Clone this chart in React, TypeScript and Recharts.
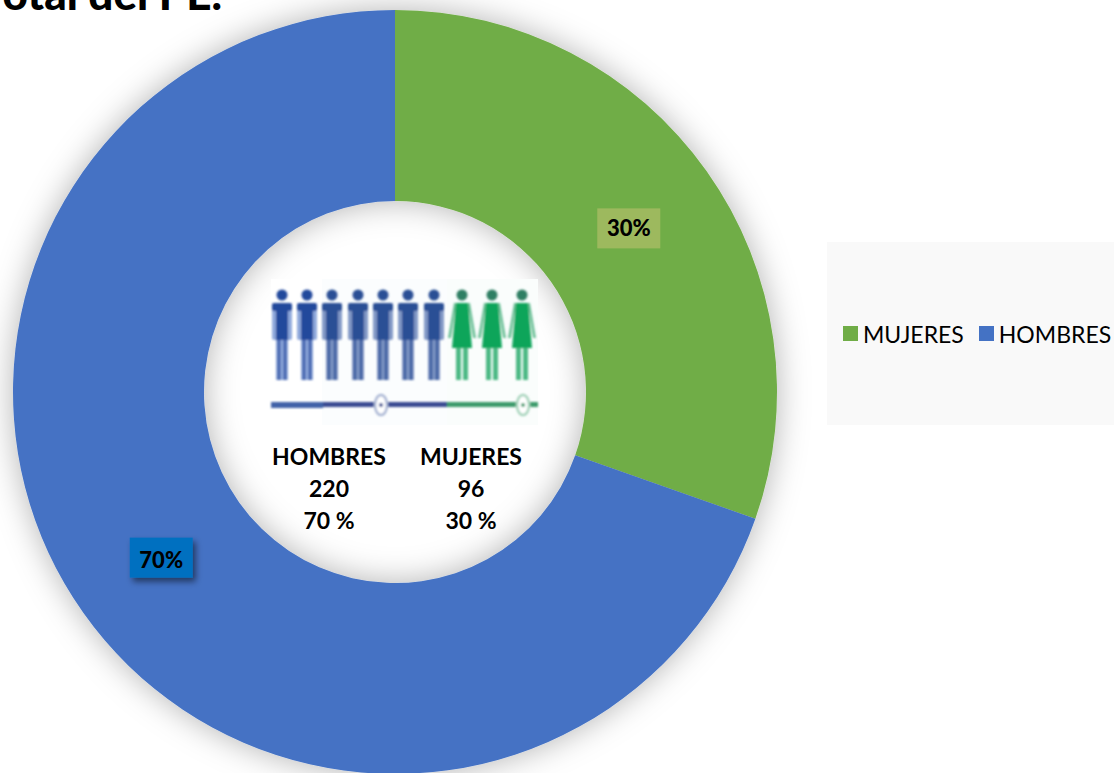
import React from "react";
import { PieChart, Pie, Cell, Legend } from "recharts";

const categories = ["MUJERES", "HOMBRES"];
const counts = [96, 220];
const percentLabels = ["30%", "70%"];
const colors = ["#70AD47", "#4472C4"];
const labelFills = ["#9DB95E", "#0070C0"];
const centerColumns = [
  { x: 329, lines: ["HOMBRES", "220", "70 %"] },
  { x: 471, lines: ["MUJERES", "96", "30 %"] },
];
const menX = [282, 307, 332, 358, 383, 408, 434];
const womenX = [462, 492, 522];

const FONT = "Lato, 'Open Sans', sans-serif";
const data = categories.map((name, i) => ({ name, value: counts[i] }));
const RAD = Math.PI / 180;

function renderLabel(p: any) {
  const r = (p.innerRadius + p.outerRadius) / 2;
  const x = p.cx + r * Math.cos(-p.midAngle * RAD);
  const y = p.cy + r * Math.sin(-p.midAngle * RAD);
  const i = p.index;
  const dy = i === 0 ? 2 : 0;
  return (
    <g>
      <rect x={x - 31.5} y={y - 20 + dy} width={63} height={40} fill={labelFills[i]} filter={i === 1 ? "url(#lblShadow)" : undefined} />
      <text x={x} y={y + 8 + dy + (i === 1 ? 2 : 0)} textAnchor="middle" fontFamily={FONT} fontWeight={900} fontSize={22} fill="#000">
        {percentLabels[i]}
      </text>
    </g>
  );
}

function Man({ x, color, light }: { x: number; color: string; light: string }) {
  return (
    <g>
      <circle cx={x} cy={295} r={5.5} fill={color} />
      <rect x={x - 10} y={303} width={20} height={37} rx={2} fill={light} />
      <rect x={x - 10} y={303} width={20} height={8} rx={2} fill={color} />
      <rect x={x - 6} y={303} width={12} height={37} fill={color} />
      <rect x={x - 6} y={340} width={12} height={40} fill={light} />
      <rect x={x - 4.5} y={340} width={3} height={40} fill={color} opacity={0.75} />
      <rect x={x + 1.5} y={340} width={3} height={40} fill={color} opacity={0.75} />
    </g>
  );
}

function Woman({ x }: { x: number }) {
  return (
    <g>
      <circle cx={x} cy={295} r={5.5} fill="#2F7F63" />
      <path d={`M${x - 8} 303 L${x + 8} 303 L${x + 14} 338 L${x + 11} 338 L${x + 7} 312 L${x - 7} 312 L${x - 11} 338 L${x - 14} 338 Z`} fill="#6CC097" />
      <path d={`M${x - 6} 303 L${x + 6} 303 L${x + 10} 348 L${x - 10} 348 Z`} fill="#0BA55A" />
      <rect x={x - 6} y={348} width={5} height={32} fill="#4DB985" />
      <rect x={x + 1} y={348} width={5} height={32} fill="#4DB985" />
    </g>
  );
}

function Pictogram() {
  return (
    <svg width={1114} height={773} style={{ position: "absolute", left: 0, top: 0, pointerEvents: "none" }}>
      <defs>
        <filter id="soft" x="-5%" y="-5%" width="110%" height="110%">
          <feGaussianBlur stdDeviation={0.9} />
        </filter>
      </defs>
      <rect x={271} y={279} width={267} height={146} fill="#fff" />
      <rect x={322} y={279} width={125} height={146} fill="#FBFDFE" />
      <rect x={447} y={279} width={91} height={146} fill="#FAFDFC" />
      <g filter="url(#soft)">
        {menX.map((x) => (
          <Man key={x} x={x} color={x < 320 ? "#24489C" : "#2B4F95"} light={x < 320 ? "#8FA9DC" : "#8299C6"} />
        ))}
        {womenX.map((x) => (
          <Woman key={x} x={x} />
        ))}
        <rect x={271} y={402} width={52} height={6} fill="#3F62A8" />
        <rect x={323} y={402} width={124} height={5} fill="#3A4C92" />
        <rect x={447} y={402} width={91} height={5} fill="#3E9B6C" />
        <ellipse cx={381} cy={405} rx={6} ry={10} fill="#fff" stroke="#A9B6D4" strokeWidth={2.5} />
        <circle cx={381} cy={405} r={2} fill="#3A4C92" />
        <ellipse cx={523} cy={405} rx={6} ry={10} fill="#fff" stroke="#A6D4BC" strokeWidth={2.5} />
        <circle cx={523} cy={405} r={2} fill="#3E9B6C" />
      </g>
      {centerColumns.map((c) =>
        c.lines.map((t, j) => (
          <text key={t} x={c.x} y={464.5 + j * 32} textAnchor="middle" fontFamily={FONT} fontWeight={700} fontSize={23} fill="#000">
            {t}
          </text>
        ))
      )}
      <text x={222} y={10} textAnchor="end" fontFamily={FONT} fontWeight={900} fontSize={44} fill="#000">
        Total del PE.
      </text>
    </svg>
  );
}

export default function App() {
  return (
    <div style={{ position: "absolute", left: 0, top: 0, width: 1114, height: 773, overflow: "hidden", background: "#fff" }}>
      <style>{`.recharts-pie { filter: url(#ringShadow); }`}</style>
      <PieChart width={1114} height={773} margin={{ top: 0, right: 0, bottom: 0, left: 0 }}>
        <defs>
          <filter id="ringShadow" x="-15%" y="-15%" width="130%" height="130%">
            <feDropShadow dx={0} dy={0} stdDeviation={16} floodColor="#000" floodOpacity={0.3} />
          </filter>
          <filter id="lblShadow" x="-30%" y="-30%" width="170%" height="170%">
            <feDropShadow dx={3} dy={4} stdDeviation={3} floodColor="#000" floodOpacity={0.5} />
          </filter>
        </defs>
        <Pie
          data={data}
          dataKey="value"
          nameKey="name"
          cx={395}
          cy={392}
          innerRadius={191}
          outerRadius={382}
          startAngle={90}
          endAngle={-270}
          stroke="none"
          isAnimationActive={false}
          label={renderLabel}
          labelLine={false}
        >
          {data.map((d, i) => (
            <Cell key={d.name} fill={colors[i]} stroke="none" />
          ))}
        </Pie>
        <Legend
          layout="horizontal"
          align="right"
          verticalAlign="middle"
          itemSorter={null}
          content={() => (
            <div style={{ height: "100%", display: "flex", alignItems: "center", paddingLeft: 16, fontFamily: FONT, fontSize: 23, color: "#000", whiteSpace: "nowrap" }}>
              {categories.map((c, i) => (
                <span key={c} style={{ display: "inline-flex", alignItems: "center", marginRight: 15 }}>
                  <span style={{ display: "inline-block", width: 15, height: 15, background: colors[i], marginRight: 5 }} />
                  {c}
                </span>
              ))}
            </div>
          )}
          wrapperStyle={{
            position: "absolute",
            left: 827,
            top: 242,
            width: 287,
            height: 183,
            background: "#F9F9F9",
          }}
        />
      </PieChart>
      <Pictogram />
    </div>
  );
}
